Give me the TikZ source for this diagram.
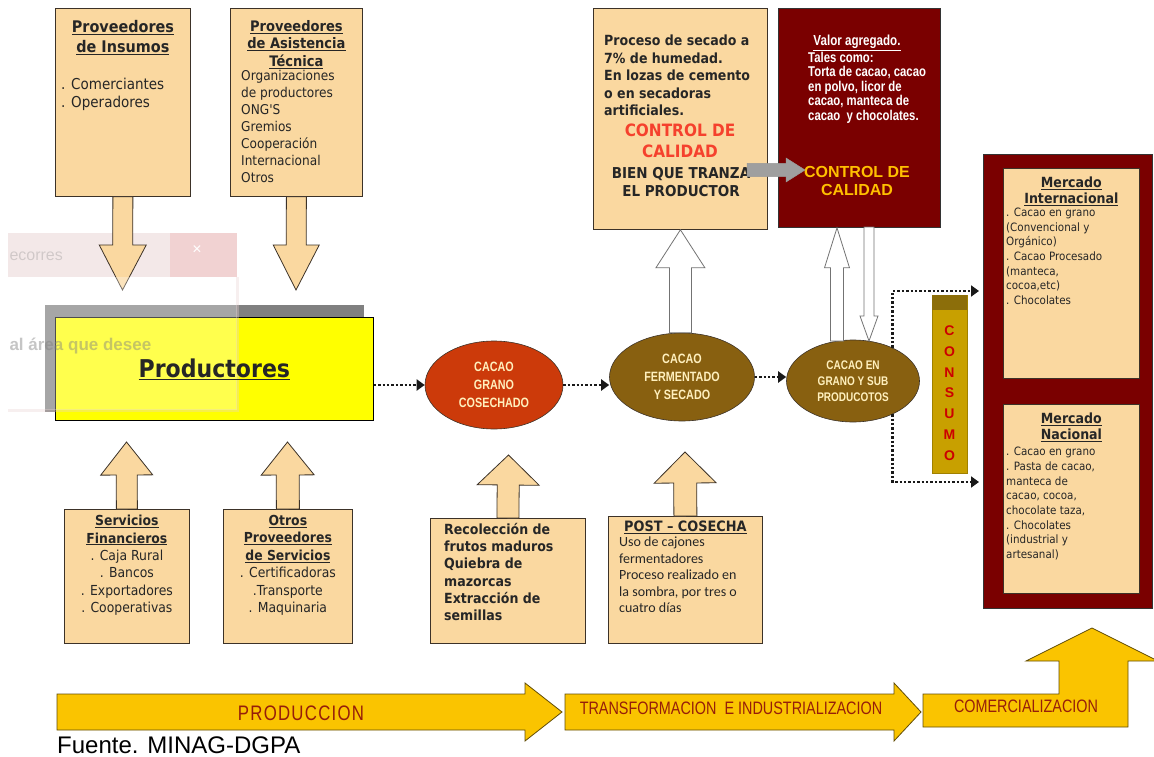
\documentclass[tikz,border=0pt]{standalone}
\usepackage{fontspec}
\setmainfont{Liberation Sans}
\newfontfamily\tah[FakeStretch=0.9]{DejaVu Sans}
\newfontfamily\nar[FakeStretch=0.8]{Liberation Sans}
\newfontfamily\narsp[FakeStretch=0.8,LetterSpace=6]{Liberation Sans}
\newfontfamily\calib{Carlito}
\usetikzlibrary{positioning,shapes.geometric,arrows.meta,calc}

\definecolor{crema}{RGB}{250,216,160}
\definecolor{crema2}{RGB}{255,240,190}
\definecolor{borde}{RGB}{60,50,40}
\definecolor{amarillo}{RGB}{255,255,0}
\definecolor{rojizo}{RGB}{204,58,10}
\definecolor{cafe}{RGB}{136,96,16}
\definecolor{vino}{RGB}{122,0,0}
\definecolor{oro}{RGB}{255,192,0}
\definecolor{mostaza}{RGB}{200,160,0}
\definecolor{olivo}{RGB}{140,110,10}
\definecolor{flecha}{RGB}{250,196,0}
\definecolor{letra}{RGB}{150,30,10}
\definecolor{rojo}{RGB}{245,65,45}
\definecolor{rosa}{RGB}{232,210,210}

% fat block arrow: [style]{start}{tip}{shaft half width}{head half width}{head length}
\newcommand\fatarrow[6][]{%
  \coordinate (fa-s) at (#2);
  \coordinate (fa-t) at (#3);
  \coordinate (fa-b) at ($(fa-t)!#6pt!(fa-s)$);
  \draw[#1] ($(fa-s)!#4pt!90:(fa-t)$) -- ($(fa-b)!#4pt!-90:(fa-s)$)
    -- ($(fa-b)!#5pt!-90:(fa-s)$) -- (fa-t) -- ($(fa-b)!#5pt!90:(fa-s)$)
    -- ($(fa-b)!#4pt!90:(fa-s)$) -- ($(fa-s)!#4pt!-90:(fa-t)$) -- cycle;}

\begin{document}
\begin{tikzpicture}[x=1pt, y=-1pt,
    caja/.style={draw=borde, fill=crema, line width=0.8pt, anchor=north west},
    txt/.style={inner sep=0pt, align=center, text=black!85,
                font=\tah\fontsize{13.8}{17.4}\selectfont},
    lista/.style={txt, align=left, anchor=north west},
    elipse/.style={ellipse, draw=borde, line width=0.6pt, inner sep=0pt, text=crema2,
                   align=center, font=\nar\bfseries\fontsize{13.5}{18}\selectfont},
    punteado/.style={line width=2.6pt, dash pattern=on 2.4pt off 2pt, black!90,
                     -{Triangle[length=8pt,width=11pt]}},
    bloque/.style={draw=borde, fill=crema, line width=0.8pt},
    hueca/.style={draw=black!55, fill=white, line width=0.8pt},
    gris/.style={draw=gray!80, fill=gray!75, line width=0.5pt},
    banda/.style={draw=olivo!70!black, fill=flecha, line width=0.8pt}]

\useasboundingbox (0,0) rectangle (1154,757);

% faded window left on the screenshot
\fill[rosa, opacity=0.5] (8,233) rectangle (237,277);
\fill[rosa!80!red, opacity=0.35] (170,233) rectangle (237,277);
\node[text=white, font=\fontsize{16}{16}\selectfont] (wx) at (197,250) {×};
\node[anchor=west, text=gray, opacity=0.3, font=\fontsize{16}{16}\selectfont] (wa) at (6,256) {ecorres};

% suppliers
\node[caja, minimum width=135, minimum height=188] (A) at (55,8) {};
\node[txt, font=\tah\bfseries\fontsize{16}{20}\selectfont, below=12pt of A.north] (At)
  {\underline{Proveedores}\\\underline{de Insumos}};
\node[lista, font=\tah\fontsize{15}{18}\selectfont] (Ai) at (61,78) {. Comerciantes\\. Operadores};

\node[caja, minimum width=132, minimum height=188] (B) at (230,8) {};
\node[txt, font=\tah\bfseries\fontsize{14.5}{17.5}\selectfont, below=12pt of B.north] (Bt)
  {\underline{Proveedores}\\\underline{de Asistencia}\\\underline{Técnica}};
\node[lista, font=\tah\fontsize{13.5}{17}\selectfont] (Bi) at (241,70)
  {Organizaciones\\de productores\\ONG'S\\Gremios\\Cooperación\\Internacional\\Otros};

\coordinate (tA) at (122.5,290);
\coordinate (tB) at (296,290);
\fatarrow[bloque]{A.south}{tA}{10}{23.5}{45}
\fatarrow[bloque]{B.south}{tB}{10}{23}{45}

% producers
\fill[black!50] (45,305) rectangle (364,412);
\node[caja, fill=amarillo, draw=black, minimum width=318, minimum height=103] (prod) at (55,317) {};
\fill[white, opacity=0.3] (8,277) rectangle (237,410);
\draw[rosa, opacity=0.35, line width=3pt] (8,410) -- (237,410) -- (237,277);
\node[anchor=west, text=gray, opacity=0.45, font=\bfseries\fontsize{17}{17}\selectfont] (wb)
  at (6,346) {al área que desee};
\node[font=\tah\bfseries\fontsize{24.5}{26}\selectfont, text=black!85] (prodT) at (prod.center)
  {\underline{Productores}};

% services below
\node[caja, minimum width=125, minimum height=134] (SF) at (64,509) {};
\node[txt, below=6pt of SF.north] (SFt)
  {\textbf{\underline{Servicios}}\\\textbf{\underline{Financieros}}\\. Caja Rural\\. Bancos\\. Exportadores\\. Cooperativas};
\node[caja, minimum width=129, minimum height=134] (OP) at (223,509) {};
\node[txt, below=6pt of OP.north] (OPt)
  {\textbf{\underline{Otros}}\\\textbf{\underline{Proveedores}}\\\textbf{\underline{de Servicios}}\\. Certificadoras\\.Transporte\\. Maquinaria};
\coordinate (tSF) at (126.5,442);
\coordinate (tOP) at (287.5,442);
\fatarrow[bloque]{SF.north}{tSF}{10.5}{26}{33}
\fatarrow[bloque]{OP.north}{tOP}{11.5}{26.5}{33}

% harvest and post-harvest
\node[caja, minimum width=155, minimum height=125] (RC) at (430,518) {};
\node[lista, font=\tah\bfseries\fontsize{14}{17.2}\selectfont] (RCt) at (444,523)
  {Recolección de\\frutos maduros\\Quiebra de\\mazorcas\\Extracción de\\semillas};
\node[caja, minimum width=154, minimum height=127] (PC) at (608,516) {};
\node[txt, font=\tah\bfseries\fontsize{14.3}{17}\selectfont, below=5pt of PC.north] (PCt)
  {\underline{POST – COSECHA}};
\node[lista, font=\calib\fontsize{14}{16.5}\selectfont] (PCi) at (619,537)
  {Uso de cajones\\fermentadores\\Proceso realizado en\\la sombra, por tres o\\cuatro días};
\coordinate (tRC) at (508.5,455);
\coordinate (tPC) at (685,452);
\fatarrow[bloque]{RC.north}{tRC}{11}{31}{30}
\fatarrow[bloque]{PC.north}{tPC}{11.5}{31}{31}

% drying and added value
\node[caja, minimum width=174, minimum height=221] (P) at (593,8) {};
\node[lista, font=\tah\bfseries\fontsize{14}{17.5}\selectfont] (Pt) at (604,35)
  {Proceso de secado a\\7\% de humedad.\\En lozas de cemento\\o en secadoras\\artificiales.};
\node[txt, font=\tah\bfseries\fontsize{17}{21}\selectfont, text=rojo] (Pc) at (680,141)
  {CONTROL DE\\CALIDAD};
\node[txt, font=\tah\bfseries\fontsize{15}{18}\selectfont] (Pb) at (681,182)
  {BIEN QUE TRANZA\\EL PRODUCTOR};

\node[caja, fill=vino, draw=black!80, minimum width=162, minimum height=219] (VA) at (778,8) {};
\node[txt, font=\nar\bfseries\fontsize{14.5}{14.5}\selectfont, text=white] (VAt) at (857,43)
  {\underline{Valor agregado.}};
\node[lista, font=\nar\bfseries\fontsize{14.2}{14.4}\selectfont, text=white] (VAi) at (808,52)
  {Tales como:\\Torta de cacao, cacao\\en polvo, licor de\\cacao, manteca de\\cacao\ \ y chocolates.};
\node[txt, font=\bfseries\fontsize{16}{18}\selectfont, text=oro] (VAc) at (857,181)
  {CONTROL DE\\CALIDAD};

% cocoa states
\node[elipse, fill=rojizo, minimum width=138, minimum height=88] (e1) at (494,385)
  {CACAO\\GRANO\\COSECHADO};
\node[elipse, fill=cafe, minimum width=145, minimum height=88] (e2) at (682,377)
  {CACAO\\FERMENTADO\\Y SECADO};
\node[elipse, fill=cafe, minimum width=133, minimum height=82,
      font=\nar\bfseries\fontsize{12.5}{16}\selectfont] (e3) at (853,381)
  {CACAO EN\\GRANO Y SUB\\PRODUCOTOS};

\fatarrow[hueca]{P.south |- e2.north}{P.south}{11}{24.5}{38}
\coordinate (u0) at (837,341);
\coordinate (d0) at (869,227);
\coordinate (d1) at (869,341);
\fatarrow[hueca]{u0}{u0 |- VA.south}{6.5}{12.5}{40}
\fatarrow[hueca]{d0}{d1}{5}{9}{25}

\coordinate (g1) at (747,170);
\coordinate (g2) at (805,170);
\fatarrow[gris]{g1}{g2}{6.5}{12}{19}

% markets
\node[caja, fill=vino, draw=black!80, minimum width=169, minimum height=454] (MK) at (983,154) {};
\node[caja, minimum width=136, minimum height=210] (MI) at (1003,168) {};
\node[txt, font=\tah\bfseries\fontsize{14}{15.5}\selectfont, below=9pt of MI.north] (MIt)
  {\underline{Mercado}\\\underline{Internacional}};
\node[lista, font=\tah\fontsize{11.5}{14.6}\selectfont] (MIi) at (1006,208)
  {. Cacao en grano\\(Convencional y\\Orgánico)\\. Cacao Procesado\\(manteca,\\cocoa,etc)\\. Chocolates};
\node[caja, minimum width=136, minimum height=189] (MN) at (1003,404) {};
\node[txt, font=\tah\bfseries\fontsize{14}{16}\selectfont, below=9pt of MN.north] (MNt)
  {\underline{Mercado}\\\underline{Nacional}};
\node[lista, font=\tah\fontsize{11.5}{14.7}\selectfont] (MNi) at (1006,447)
  {. Cacao en grano\\. Pasta de cacao,\\manteca de\\cacao, cocoa,\\chocolate taza,\\. Chocolates\\(industrial y\\artesanal)};

\node[draw=mostaza!80!black, fill=mostaza, minimum width=35, minimum height=178,
      anchor=north west, inner sep=0pt] (cons) at (932,295) {};
\fill[olivo] (cons.north west) rectangle ([yshift=-15pt]cons.north east);
\node[txt, font=\bfseries\fontsize{14}{20.8}\selectfont, text=red!80!black] (consT)
  at (949.5,393) {C\\O\\N\\S\\U\\M\\O};

% dotted flow
\coordinate (ci) at (979,291);
\coordinate (cn) at (979,482);
\draw[punteado] (prod.east |- e1.west) -- (e1.west);
\draw[punteado] (e1.east) -- (e1.east -| e2.west);
\draw[punteado] (e2.east) -- (e2.east -| e3.west);
\draw[punteado] (e3.40) |- (ci);
\draw[punteado] (e3.-40) |- (cn);

% stages
\coordinate (b0) at (57,712);
\coordinate (b1) at (562,712);
\coordinate (b2) at (565,712);
\coordinate (b3) at (921,712);
\fatarrow[banda]{b0}{b1}{18}{29}{37}
\fatarrow[banda]{b2}{b3}{18}{29}{27}
\draw[banda] (923,694) -- (1059,694) -- (1059,661) -- (1026,661) -- (1092,628) -- (1158,661)
  -- (1128,661) -- (1128,727) -- (923,727) -- cycle;
\node[font=\narsp\fontsize{21}{21}\selectfont, text=letra] (tp) at (301,713) {PRODUCCION};
\node[font=\nar\fontsize{18}{18}\selectfont, text=letra] (tt) at (731,708)
  {TRANSFORMACION\ \ E INDUSTRIALIZACION};
\node[font=\nar\fontsize{18}{18}\selectfont, text=letra] (tc) at (1026,706) {COMERCIALIZACION};

\node[anchor=west, inner sep=0pt, font=\fontsize{24}{24}\selectfont] (fuente) at (57,745)
  {Fuente. MINAG-DGPA};
\end{tikzpicture}
\end{document}
